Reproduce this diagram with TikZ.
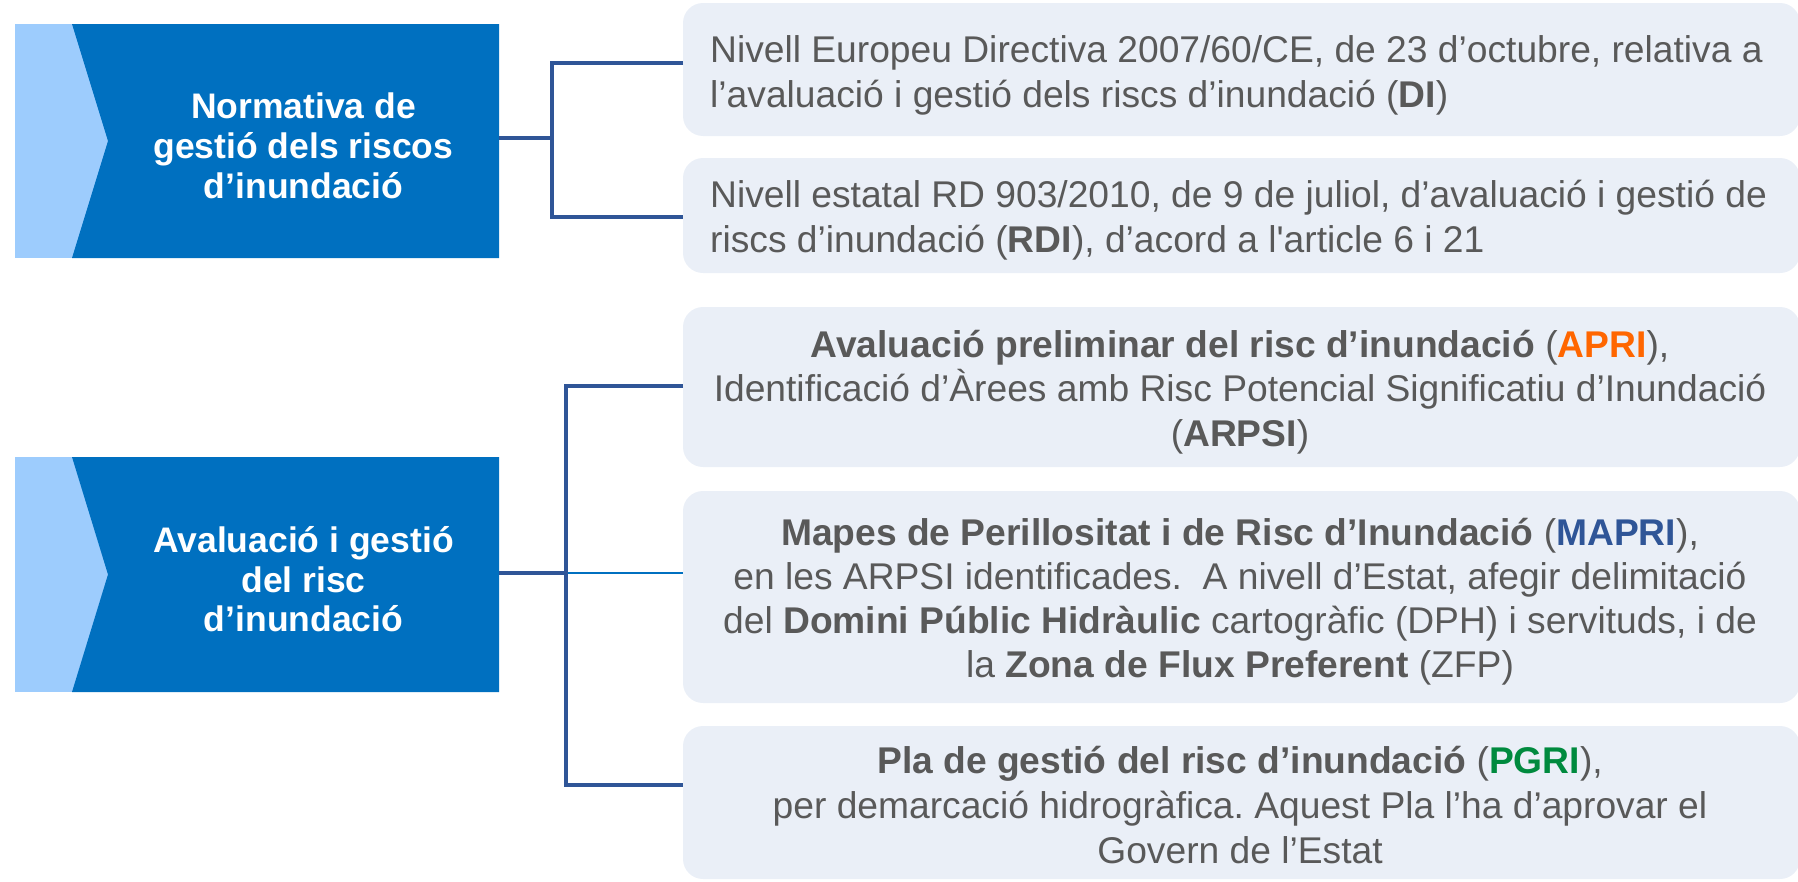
\documentclass[tikz,border=0pt]{standalone}
\usepackage{fontspec}
\newfontfamily\arial{Liberation Sans}
\frenchspacing
\definecolor{darkblue}{HTML}{0070C0}
\definecolor{lightblue}{HTML}{9DCCFD}
\definecolor{conncol}{HTML}{2F5597}
\definecolor{boxfill}{HTML}{EAEFF7}
\definecolor{txtgrey}{HTML}{595959}
\definecolor{apri}{HTML}{FF6600}
\definecolor{mapri}{HTML}{2F5597}
\definecolor{pgri}{HTML}{008A3E}
\tikzset{
  lbox/.style={anchor=north west, minimum width=484pt, minimum height=234pt, inner sep=0pt, outer sep=0pt},
  rbox/.style={anchor=north west, rounded corners=20pt, fill=boxfill, minimum width=1117pt, inner sep=0pt, outer sep=0pt},
  ltext/.style={anchor=base, inner sep=0pt, text=white, font=\arial\bfseries\fontsize{35.5}{40}\selectfont},
  rtextl/.style={anchor=base west, inner sep=0pt, text=txtgrey, font=\arial\fontsize{37.2}{44}\selectfont},
  rtextc/.style={anchor=base, inner sep=0pt, text=txtgrey, font=\arial\fontsize{37.2}{44}\selectfont},
  conn/.style={draw=conncol, line width=3.6pt, line join=miter},
  thinconn/.style={draw=darkblue, line width=2.4pt},
}
\begin{document}
\begin{tikzpicture}[x=1pt,y=-1pt]
\useasboundingbox (0,0) rectangle (1798,881);
% left boxes
\node[lbox] (L1) at (15,24) {};
\node[lbox, minimum height=235pt] (L2) at (15,457) {};
\foreach \b in {L1,L2}{
  \fill[lightblue] (\b.north west) rectangle (\b.south east);
  \fill[darkblue] ([xshift=57pt]\b.north west) -- (\b.north east) -- (\b.south east)
     -- ([xshift=57pt]\b.south west) -- ([xshift=93pt]\b.west) -- cycle;
}
\node[ltext] (l1a) at (303.5,118) {Normativa de};
\node[ltext] (l1b) at (303.5,158) {gestió dels riscos};
\node[ltext] (l1c) at (303.5,198) {d’inundació};
\node[ltext] (l2a) at (303.5,552) {Avaluació i gestió};
\node[ltext] (l2b) at (303.5,592) {del risc};
\node[ltext] (l2c) at (303.5,631) {d’inundació};
% right boxes
\node[rbox, minimum height=133pt] (R1) at (683,3) {};
\node[rbox, minimum height=115pt] (R2) at (683,158) {};
\node[rbox, minimum height=160pt] (R3) at (683,307) {};
\node[rbox, minimum height=212pt] (R4) at (683,491) {};
\node[rbox, minimum height=153pt] (R5) at (683,726) {};
% texts
\node[rtextl] (t1a) at (710,62) {Nivell Europeu Directiva 2007/60/CE, de 23 d’octubre, relativa a};
\node[rtextl] (t1b) at (710,107) {l’avaluació i gestió dels riscs d’inundació (\textbf{DI})};
\node[rtextl] (t2a) at (710,207) {Nivell estatal RD 903/2010, de 9 de juliol, d’avaluació i gestió de};
\node[rtextl] (t2b) at (710,252) {riscs d’inundació (\textbf{RDI}), d’acord a l'article 6 i 21};
\node[rtextc] (t3a) at (1240,357) {\textbf{Avaluació preliminar del risc d’inundació} (\textbf{\textcolor{apri}{APRI}}),};
\node[rtextc] (t3b) at (1240,401) {Identificació d’Àrees amb Risc Potencial Significatiu d’Inundació};
\node[rtextc] (t3c) at (1240,446) {(\textbf{ARPSI})};
\node[rtextc] (t4a) at (1240,545) {\textbf{Mapes de Perillositat i de Risc d’Inundació} (\textbf{\textcolor{mapri}{MAPRI}}),};
\node[rtextc] (t4b) at (1240,589) {en les ARPSI identificades.\ \ A nivell d’Estat, afegir delimitació};
\node[rtextc] (t4c) at (1240,633) {del \textbf{Domini Públic Hidràulic} cartogràfic (DPH) i servituds, i de};
\node[rtextc] (t4d) at (1240,677) {la \textbf{Zona de Flux Preferent} (ZFP)};
\node[rtextc] (t5a) at (1240,773) {\textbf{Pla de gestió del risc d’inundació} (\textbf{\textcolor{pgri}{PGRI}}),};
\node[rtextc] (t5b) at (1240,818) {per demarcació hidrogràfica. Aquest Pla l’ha d’aprovar el};
\node[rtextc] (t5c) at (1240,863) {Govern de l’Estat};
% connectors
\coordinate (J1) at (552,138);
\coordinate (J2) at (566,573);
\coordinate (ya) at (0,63);
\coordinate (yb) at (0,217);
\coordinate (yc) at (0,386);
\coordinate (yd) at (0,785);
\draw[conn] (L1.east |- J1) -- (J1);
\draw[conn] (R1.west |- ya) -| (J1) |- (R2.west |- yb);
\draw[thinconn] (J2) -- (R4.west |- J2);
\draw[conn] (L2.east |- J2) -- (J2);
\draw[conn] (R3.west |- yc) -| (J2) |- (R5.west |- yd);
\end{tikzpicture}
\end{document}
